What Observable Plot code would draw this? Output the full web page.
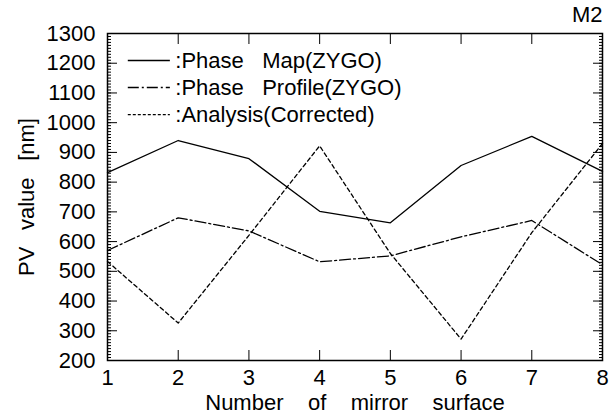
<!DOCTYPE html>
<html>
<head>
<meta charset="utf-8">
<script src="https://cdn.jsdelivr.net/npm/d3@7"></script>
<script src="https://cdn.jsdelivr.net/npm/@observablehq/plot@0.6"></script>
<style>
  html, body { margin: 0; padding: 0; background: #fff; }
  #chart svg { font-family: "Liberation Sans", Arial, Helvetica, sans-serif; }
  #chart svg text { fill: #000; }
</style>
</head>
<body>
<div id="chart"></div>
<script>
// ---- data ----
const surfaces = [1, 2, 3, 4, 5, 6, 7, 8];
const phaseMap = [832, 940, 879, 702, 663, 856, 954, 836];
const phaseProfile = [570, 680, 636, 532, 552, 616, 671, 522];
const analysis = [533, 326, 621, 922, 560, 272, 630, 930];
const seriesNames = [":Phase Map(ZYGO)", ":Phase Profile(ZYGO)", ":Analysis(Corrected)"];
const yTicks = [200, 300, 400, 500, 600, 700, 800, 900, 1000, 1100, 1200, 1300];
const xTicks = [1, 2, 3, 4, 5, 6, 7, 8];
const panelTitle = "M2";
const xLabel = "Number of mirror surface";
const yLabel = "PV value [nm]";

// wide typeset word gaps of the original figure
const spaced = (s, gap) => s.replace(/ /g, gap);
const dashes = [null, "11,3,2,3", "4,3"];
const legendDashes = [null, "11,3,2,3", "3,2"];
const seriesValues = [phaseMap, phaseProfile, analysis];
const rows = seriesValues.map(vals => surfaces.map((s, i) => ({x: s, y: vals[i]})));
const minorTicks = d3.range(200, 1301, 10);

// legend placement (derived from the scale domains)
const xDom = [1, 8], yDom = [200, 1300];
const legX1 = xDom[0] + 0.042 * (xDom[1] - xDom[0]);
const legX2 = xDom[0] + 0.127 * (xDom[1] - xDom[0]);
const legTx = xDom[0] + 0.137 * (xDom[1] - xDom[0]);
const legY = seriesNames.map((_, i) => yDom[1] - 0.0826 * (i + 1) * (yDom[1] - yDom[0]));

const fs = 22;
const marks = [
  Plot.frame({stroke: "#000", strokeWidth: 1.5}),
  // y tick labels
  Plot.axisY({ticks: yTicks, tickSize: 0, tickPadding: 12, tickFormat: d => String(d), fontSize: fs, label: null}),
  // y major/minor inner ticks left and right
  Plot.axisY({anchor: "left", ticks: yTicks, tickSize: -10, text: null, label: null}),
  Plot.axisY({anchor: "left", ticks: minorTicks, tickSize: -4, text: null, label: null}),
  Plot.axisY({anchor: "right", ticks: yTicks, tickSize: -10, text: null, label: null}),
  Plot.axisY({anchor: "right", ticks: minorTicks, tickSize: -4, text: null, label: null}),
  // x labels and inner ticks
  Plot.axisX({ticks: xTicks, tickSize: 0, tickPadding: 9, tickFormat: d => String(d), fontSize: fs, label: null}),
  Plot.axisX({anchor: "bottom", ticks: xTicks, tickSize: -10, text: null, label: null}),
  Plot.axisX({anchor: "top", ticks: xTicks, tickSize: -10, text: null, label: null}),
];
rows.forEach((data, k) => {
  marks.push(Plot.line(data, {x: "x", y: "y", stroke: "#000", strokeWidth: 1.3, strokeDasharray: dashes[k]}));
  marks.push(Plot.ruleY([legY[k]], {x1: legX1, x2: legX2, stroke: "#000", strokeWidth: 1.3, strokeDasharray: legendDashes[k]}));
});
marks.push(Plot.text(seriesNames, {x: legTx, y: (d, i) => legY[i], text: d => spaced(d, "\u00a0\u00a0\u00a0"),
  textAnchor: "start", lineAnchor: "middle", fontSize: fs}));
marks.push(Plot.text([panelTitle], {frameAnchor: "top-right", text: d => d, textAnchor: "end", lineAnchor: "bottom", dy: -12, fontSize: fs}));
marks.push(Plot.text([xLabel], {frameAnchor: "bottom", text: d => spaced(d, "\u00a0\u00a0\u00a0\u00a0"), textAnchor: "middle", lineAnchor: "middle", dy: 42, fontSize: fs}));
marks.push(Plot.text([yLabel], {frameAnchor: "left", text: d => spaced(d, "\u00a0\u00a0\u2009"), rotate: -90, textAnchor: "middle", lineAnchor: "middle", dx: -81, fontSize: fs}));

const chart = Plot.plot({
  width: 615,
  height: 414,
  marginLeft: 107,
  marginRight: 13,
  marginTop: 33,
  marginBottom: 54,
  x: {domain: xDom, axis: null},
  y: {domain: yDom, axis: null},
  style: {background: "#fff", fontFamily: "'Liberation Sans', Arial, sans-serif"},
  marks
});
document.getElementById("chart").appendChild(chart);
</script>
</body>
</html>
